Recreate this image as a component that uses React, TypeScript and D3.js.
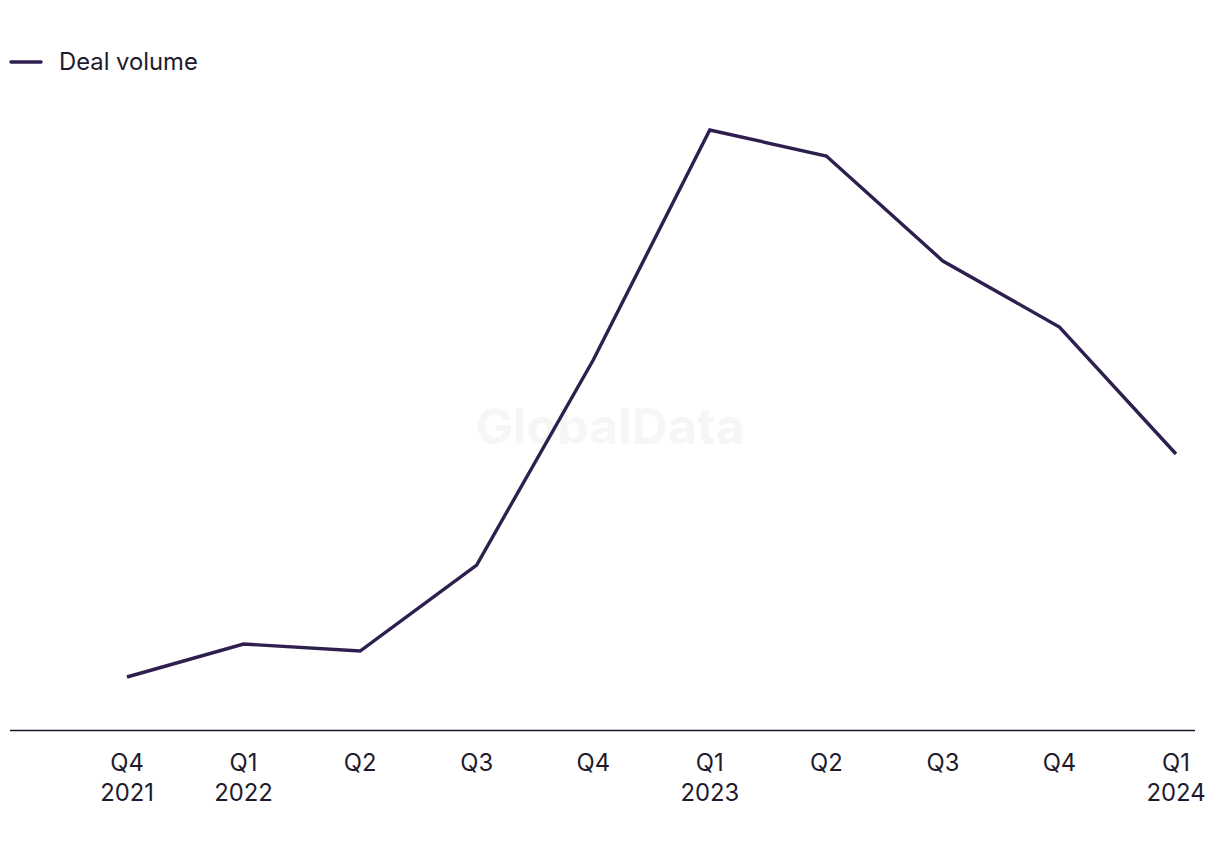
import React from "react";
import * as d3 from "d3";

const quarters = ["Q4", "Q1", "Q2", "Q3", "Q4", "Q1", "Q2", "Q3", "Q4", "Q1"];
const years = ["2021", "2022", "", "", "", "2023", "", "", "", "2024"];
const dealVolume = [53, 86, 79, 165, 370, 600, 574, 469, 403, 276];
const seriesName = "Deal volume";

const W = 1220;
const H = 850;
const color = "#2e1f4f";
const font = "Inter, 'Noto Sans', sans-serif";

export default function App() {
  const idx = quarters.map((_, i) => String(i));
  const x = d3.scalePoint<string>().domain(idx).range([127, 1176]);
  const y = d3.scaleLinear().domain([0, 600]).range([730, 130]);
  const line = d3
    .line<number>()
    .x((_, i) => x(String(i)) as number)
    .y((d) => y(d));
  return (
    <svg
      width={W}
      height={H}
      style={{ position: "absolute", left: 0, top: 0, background: "#fff" }}
      fontFamily={font}
    >
      <text x={610} y={444} textAnchor="middle" fontSize={50} fontWeight={700} fill="#f6f6f6">
        GlobalData
      </text>
      <line x1={11} x2={41} y1={62} y2={62} stroke={color} strokeWidth={3.5} strokeLinecap="round" />
      <text x={59} y={70} fontSize={23.8} fill="#1f1b2d">
        {seriesName}
      </text>
      <line x1={10} x2={1195} y1={730.5} y2={730.5} stroke="#1a1628" strokeWidth={1.6} />
      <path d={line(dealVolume) || ""} fill="none" stroke={color} strokeWidth={3.4} strokeLinejoin="miter" />
      {quarters.map((q, i) => (
        <g key={i} transform={`translate(${x(String(i))},0)`}>
          <text y={771} textAnchor="middle" fontSize={23.8} fill="#1f1b2d">
            {q}
          </text>
          {years[i] && (
            <text y={801} textAnchor="middle" fontSize={23.8} fill="#1f1b2d">
              {years[i]}
            </text>
          )}
        </g>
      ))}
    </svg>
  );
}
